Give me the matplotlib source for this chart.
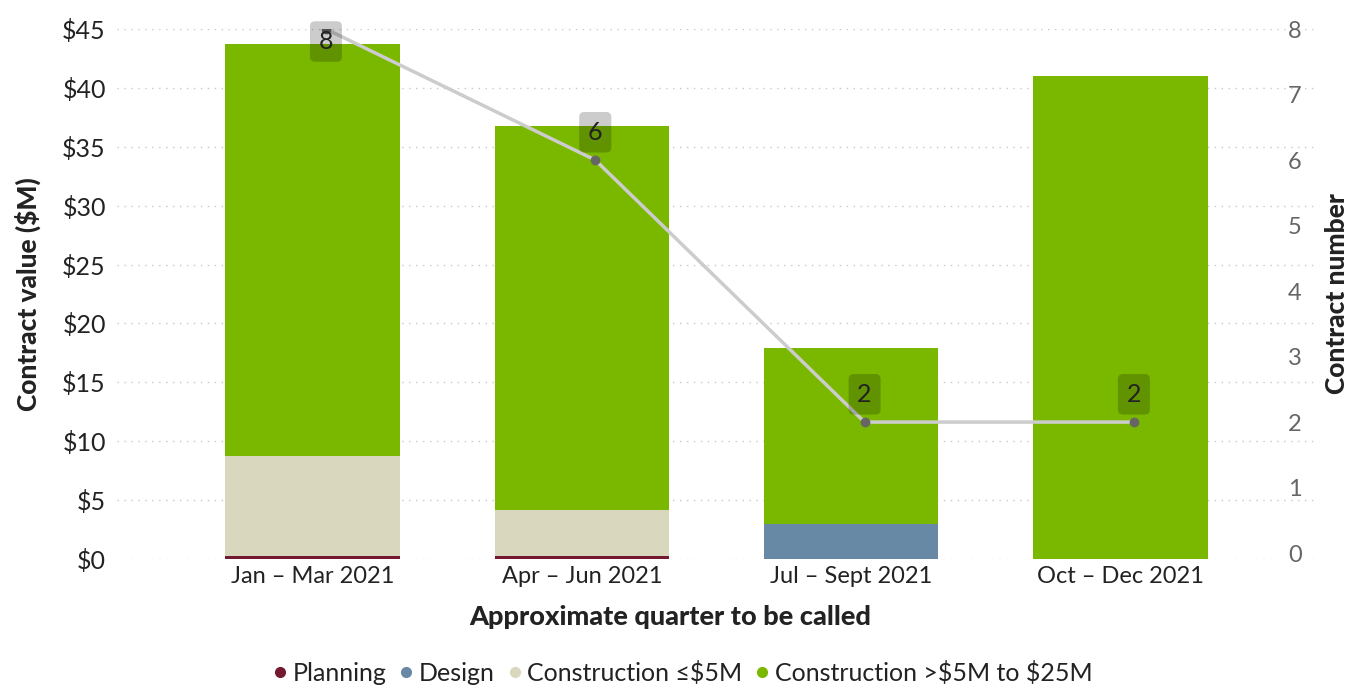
import matplotlib.pyplot as plt
import numpy as np

plt.rcParams['font.family'] = ['Lato', 'DejaVu Sans']

quarters = ["Jan – Mar 2021", "Apr – Jun 2021", "Jul – Sept 2021", "Oct – Dec 2021"]
planning = [0.25, 0.25, 0.0, 0.0]
design = [0.0, 0.0, 3.0, 0.0]
constr_small = [8.5, 3.9, 0.0, 0.0]
constr_large = [35.0, 32.6, 14.9, 41.0]
contract_num = [8, 6, 2, 2]

series = [
    ("Planning", planning, "#741a30"),
    ("Design", design, "#6789a5"),
    (r"Construction ≤\$5M", constr_small, "#d9d8bf"),
    (r"Construction >\$5M to \$25M", constr_large, "#7ab800"),
]

x = np.arange(len(quarters))

fig = plt.figure(figsize=(13.49, 6.89), dpi=100)
ax = fig.add_axes([0.0867, 0.1887, 0.8888, 0.7692])

bottom = np.zeros(len(quarters))
handles = []
for name, vals, col in series:
    ax.bar(x, vals, 0.648, bottom=bottom, color=col, zorder=2)
    bottom += np.array(vals)
    handles.append(plt.Line2D([], [], marker='o', ls='', color=col, markersize=7, label=name))

ax.set_xlim(-0.726, 3.726)
ax.set_ylim(0, 45)
ax.set_yticks(range(0, 46, 5))
ax.set_yticklabels(["$" + str(v) for v in range(0, 46, 5)], fontsize=18, color="#222222")
ax.set_xticks(x)
ax.set_xticklabels(quarters, fontsize=17, color="#222222")
ax.tick_params(axis='both', length=0, pad=8)
ax.tick_params(axis='x', pad=5)
ax.grid(axis='y', ls=(0, (1, 4)), color="#c8c8c8", lw=1, zorder=0)
for s in ax.spines.values():
    s.set_visible(False)
ax.set_ylabel("Contract value ($M)", fontsize=19, fontweight='black', color="#222222",
              ha='center', va='center')
ax.yaxis.set_label_coords(-0.074, 0.5)
ax.set_xlabel("Approximate quarter to be called", fontsize=19.5, fontweight='black', color="#222222",
              ha='center', va='center')
ax.xaxis.set_label_coords(0.461, -0.109)

ax2 = ax.twinx()
ax2.set_ylim(-0.09, 8.0)
ax2.set_yticks(range(0, 9))
ax2.tick_params(axis='y', length=0, pad=-20, labelsize=17, labelcolor="#666666")
for s in ax2.spines.values():
    s.set_visible(False)
ax2.set_ylabel("Contract number", fontsize=19, fontweight='black', color="#222222",
               ha='center', va='center')
ax2.yaxis.set_label_coords(1.0175, 0.5)

xl = x + 0.05
ax2.plot(xl, contract_num, color="#cccccc", lw=2.5, zorder=3)
ax2.plot(xl, contract_num, 'o', color="#666666", markersize=6, zorder=4)
for xi, v in zip(xl, contract_num):
    dy = 20 if v < 8 else -9
    ax2.annotate(str(v), (xi, v), xytext=(0, dy), textcoords='offset points',
                 ha='center', va='center', fontsize=18, color="#222222", zorder=5,
                 bbox=dict(boxstyle='round,pad=0.35,rounding_size=0.2', fc=(0, 0, 0, 0.2), ec='none'))

fig.legend(handles=handles, loc='center', bbox_to_anchor=(0.505, 0.023), ncol=4, frameon=False,
           fontsize=18, handletextpad=0.1, columnspacing=0.4, handlelength=0.8,
           labelcolor="#222222")

fig.savefig("out.png", dpi=100)
